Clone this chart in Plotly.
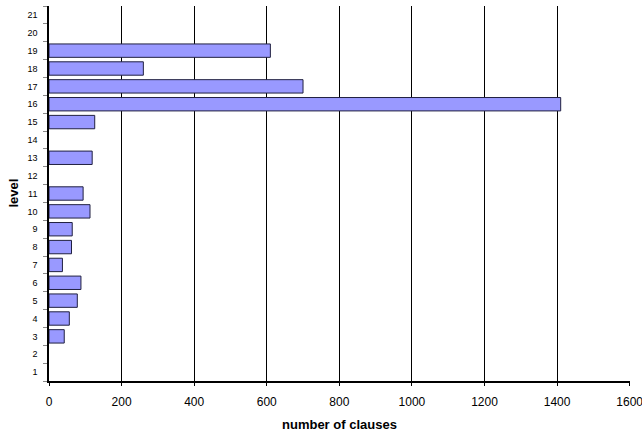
import plotly.graph_objects as go

levels = list(range(1, 22))
clauses = [0, 0, 42, 56, 78, 88, 37, 62, 64, 113, 94, 0, 119, 0, 126, 1410, 700, 260, 610, 0, 0]
x_ticks = [0, 200, 400, 600, 800, 1000, 1200, 1400, 1600]

fig = go.Figure(go.Bar(
    x=[v if v else None for v in clauses], y=levels, orientation="h", width=0.75,
    marker=dict(color="#9999FF", line=dict(color="#202040", width=1)),
    cliponaxis=False,
))

fig.update_layout(
    width=642, height=434,
    margin=dict(l=49, r=12, t=6, b=53),
    paper_bgcolor="white", plot_bgcolor="white",
    font=dict(family="Liberation Sans, Arial, sans-serif", color="#000"),
    showlegend=False,
    bargap=0.25,
    annotations=[
        dict(text="<b>number of clauses</b>", xref="paper", yref="paper", x=0.5, y=0,
             yshift=-43, showarrow=False, font=dict(size=13), yanchor="middle"),
        dict(text="<b>level</b>", xref="paper", yref="paper", x=0, y=0.5,
             xshift=-36, showarrow=False, font=dict(size=13), textangle=-90, xanchor="center"),
    ],
)
fig.update_xaxes(
    range=[0, 1601], tickvals=x_ticks, ticktext=[str(v) for v in x_ticks],
    showgrid=True, gridcolor="#000", gridwidth=1,
    showline=True, linecolor="#000", linewidth=1.5,
    ticks="outside", ticklen=3, tickcolor="#000",
    tickfont=dict(size=12), zeroline=False, automargin=False,
    ticklabelstandoff=6, ticklabeloverflow="allow",
)
fig.update_yaxes(
    range=[0.5, 21.5], tickvals=levels, ticktext=[str(v) for v in levels],
    showgrid=False, showline=True, linecolor="#000", linewidth=1.5,
    ticks="", tickfont=dict(size=9), zeroline=False, automargin=False,
    ticklabelstandoff=8,
    minor=dict(tick0=0.5, dtick=1, ticks="outside", ticklen=4, tickcolor="#888", showgrid=False),
)

fig.write_html("out.html", config={"displayModeBar": False},
               post_script="document.body.style.margin='0px';document.body.style.overflow='hidden';")
